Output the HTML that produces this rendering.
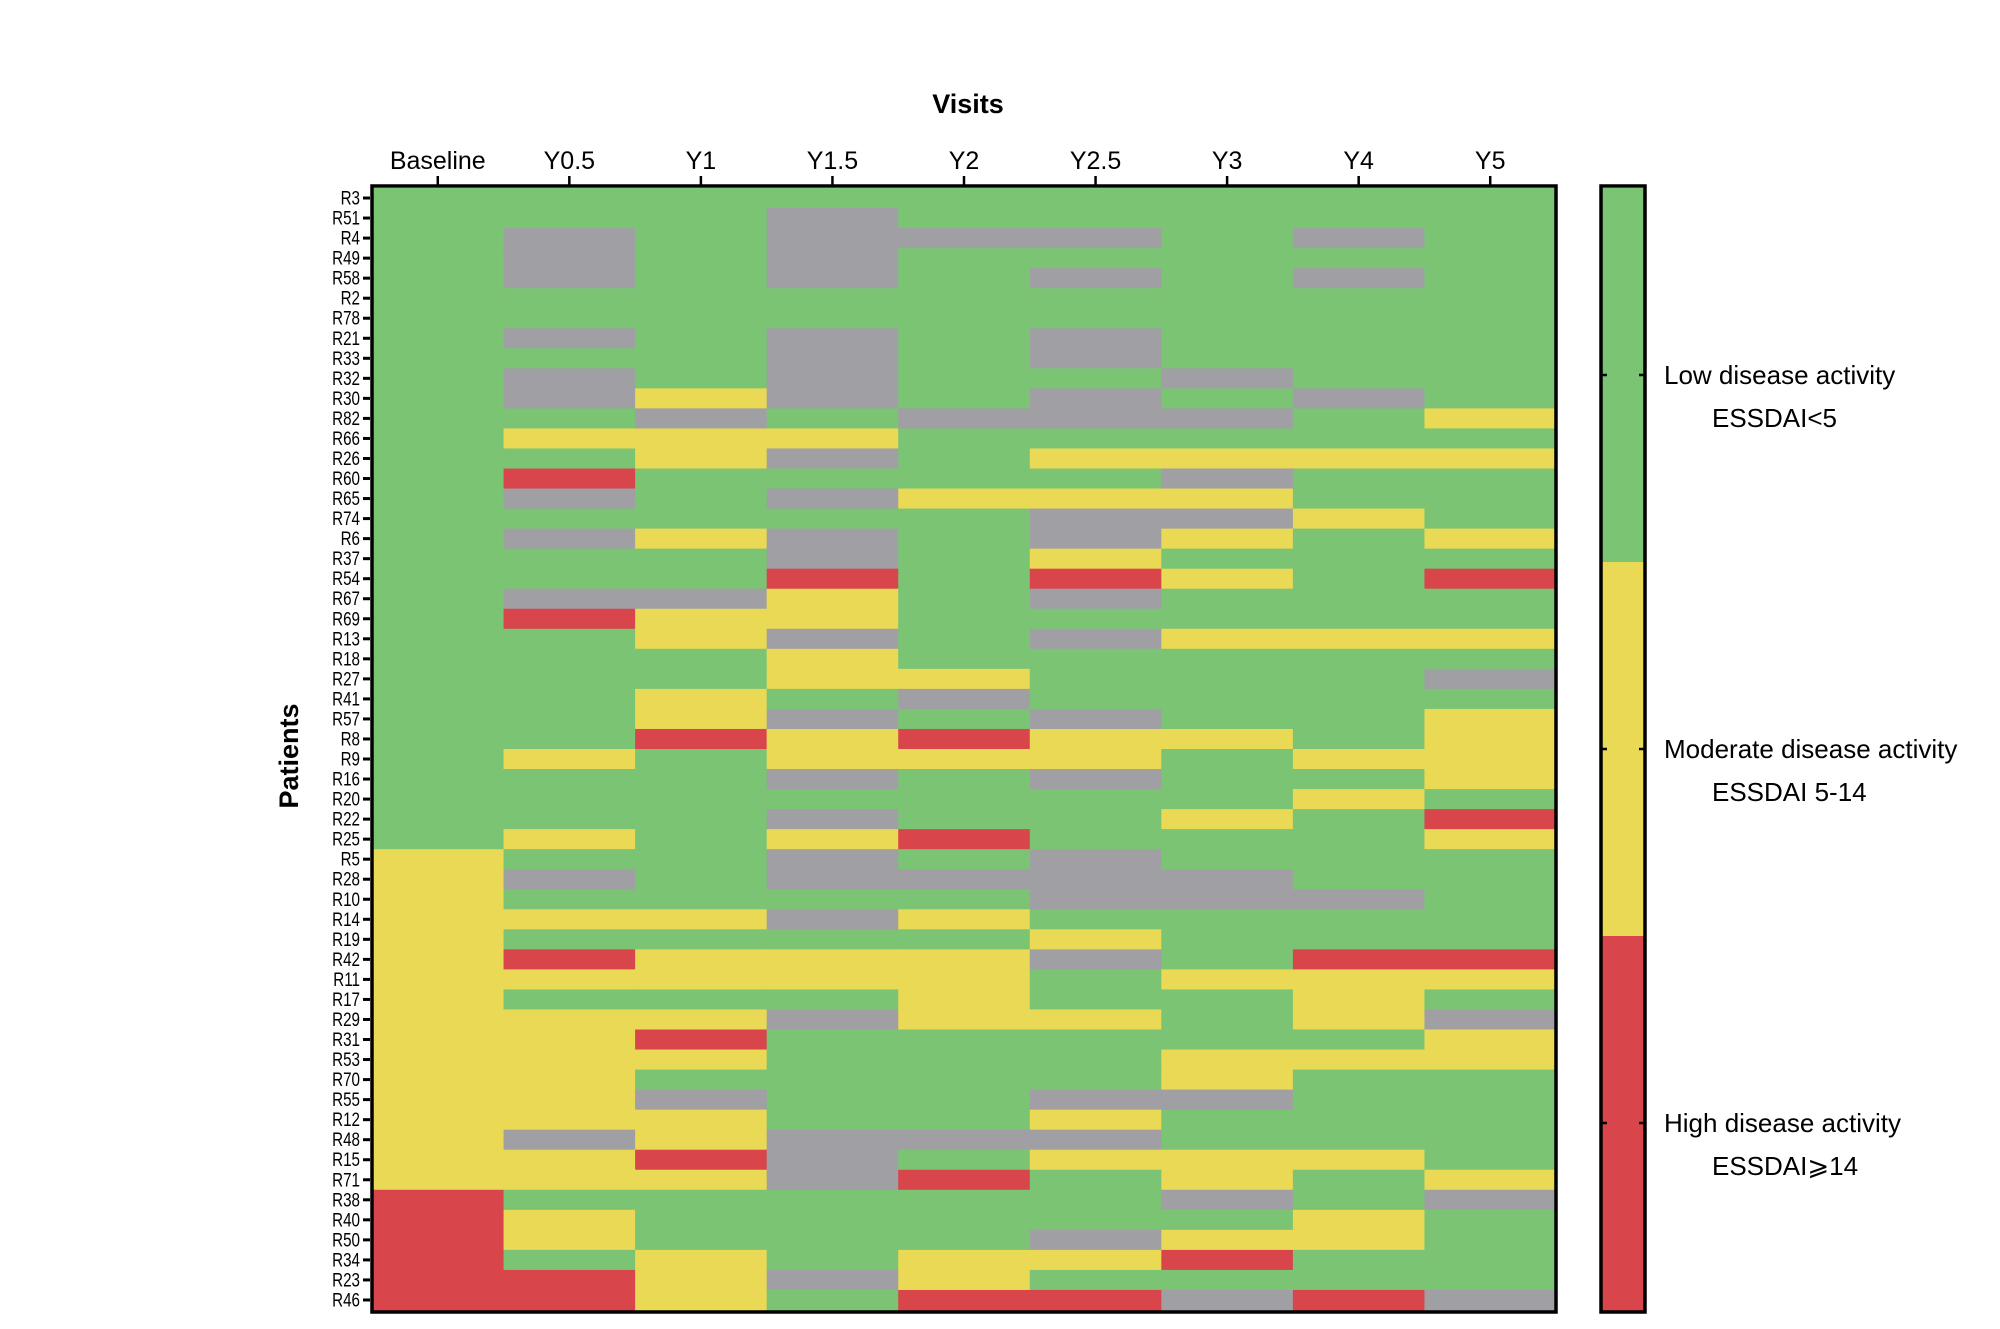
<!DOCTYPE html>
<html><head><meta charset="utf-8"><style>
body{margin:0;background:#fff;}
svg{display:block;font-family:"Liberation Sans",Arial,sans-serif;}
</style></head><body>
<svg id="chart" width="2000" height="1329" viewBox="0 0 2000 1329" xmlns="http://www.w3.org/2000/svg">
<g id="cells"></g>
<g id="axes"></g>
</svg>
<script>
const visits = ["Baseline","Y0.5","Y1","Y1.5","Y2","Y2.5","Y3","Y4","Y5"];
const patients = ["R3","R51","R4","R49","R58","R2","R78","R21","R33","R32","R30","R82","R66","R26","R60","R65","R74","R6","R37","R54","R67","R69","R13","R18","R27","R41","R57","R8","R9","R16","R20","R22","R25","R5","R28","R10","R14","R19","R42","R11","R17","R29","R31","R53","R70","R55","R12","R48","R15","R71","R38","R40","R50","R34","R23","R46"];
// G=low, Y=moderate, R=high, N=missing
const statusRows = [
"GGGGGGGGG","GGGNGGGGG","GNGNNNGNG","GNGNGGGGG","GNGNGNGNG","GGGGGGGGG","GGGGGGGGG",
"GNGNGNGGG","GGGNGNGGG","GNGNGGNGG","GNYNGNGNG","GGNGNNNGY","GYYYGGGGG","GGYNGYYYY",
"GRGGGGNGG","GNGNYYYGG","GGGGGNNYG","GNYNGNYGY","GGGNGYGGG","GGGRGRYGR","GNNYGNGGG",
"GRYYGGGGG","GGYNGNYYY","GGGYGGGGG","GGGYYGGGN","GGYGNGGGG","GGYNGNGGY","GGRYRYYGY",
"GYGYYYGYY","GGGNGNGGY","GGGGGGGYG","GGGNGGYGR","GYGYRGGGY","YGGNGNGGG","YNGNNNNGG",
"YGGGGNNNG","YYYNYGGGG","YGGGGYGGG","YRYYYNGRR","YYYYYGYYY","YGGGYGGYG","YYYNYYGYN",
"YYRGGGGGY","YYYGGGYYY","YYGGGGYGG","YYNGGNNGG","YYYGGYGGG","YNYNNNGGG","YYRNGYYYG",
"YYYNRGYGY","RGGGGGNGN","RYGGGGGYG","RYGGGNYYG","RGYGYYRGG","RRYNYGGGG","RRYGRRNRN"];
const legendLabels = ["Low disease activity","Moderate disease activity","High disease activity"];
const legendSub = ["ESSDAI<5","ESSDAI 5-14","ESSDAI\u2A7E14"];

const colors = {G:"#7AC474",Y:"#E9D955",R:"#D8454A",N:"#A09FA4"};
const names = {G:"low",Y:"moderate",R:"high",N:"missing"};
const X0=372, X1=1556, Y0=188, Y1=1310;
const cw=(X1-X0)/visits.length, rh=(Y1-Y0)/patients.length;
const xScale=i=>X0+i*cw, yScale=j=>Y0+j*rh;
const NS="http://www.w3.org/2000/svg";
function mk(tag,attrs,parent,text){const e=document.createElementNS(NS,tag);for(const k in attrs)e.setAttribute(k,attrs[k]);if(text!==undefined)e.textContent=text;parent.appendChild(e);return e;}
const cells=document.getElementById('cells'), axes=document.getElementById('axes');
statusRows.forEach((row,j)=>{
  for(let i=0;i<visits.length;i++){
    const c=row[i];
    const r=mk('rect',{x:xScale(i),y:yScale(j),width:cw+0.6,height:rh+0.6,fill:colors[c]},cells);
    
    
  }
});
const fr=mk('rect',{x:X0,y:Y0-2,width:X1-X0,height:Y1-Y0+4,fill:"none",stroke:"#000","stroke-width":3.5},axes);


visits.forEach((v,i)=>{
  const cx=xScale(i)+cw/2;
  const t=mk('line',{x1:cx,x2:cx,y1:Y0-12,y2:Y0-2,stroke:"#000","stroke-width":2.5},axes);
  
  
  const l=mk('text',{x:cx,y:169,"text-anchor":"middle","font-size":25},axes,v);
  
  
});
patients.forEach((p,j)=>{
  const cy=yScale(j)+rh/2;
  const t=mk('line',{x1:X0-9,x2:X0-2,y1:cy,y2:cy,stroke:"#000","stroke-width":3},axes);
  
  
  const l=mk('text',{x:X0-12,y:cy+6.5,"text-anchor":"end","font-size":19,transform:"translate("+(X0-12)+",0) scale(0.8,1) translate("+(-(X0-12))+",0)"},axes,p);
  
  
});
const xt=mk('text',{x:968,y:113,"text-anchor":"middle","font-size":27,"font-weight":"bold"},axes,"Visits");


const yt=mk('text',{x:0,y:0,"text-anchor":"middle","font-size":27,"font-weight":"bold",transform:"translate(298,756) rotate(-90)"},axes,"Patients");


const CB0=1601, CB1=1645, cbh=(Y1-Y0)/3;
const cbColors=["G","Y","R"];
const cb=document.createElementNS(NS,'g');axes.appendChild(cb);


cbColors.forEach((c,k)=>{
  const r=mk('rect',{x:CB0,y:Y0+k*cbh,width:CB1-CB0,height:cbh+0.5,fill:colors[c]},cb);
  
  
  const my=Y0+k*cbh+cbh/2;
  mk('line',{x1:CB0,x2:CB0+6,y1:my,y2:my,stroke:"#000","stroke-width":2.5},cb);
  mk('line',{x1:CB1-6,x2:CB1,y1:my,y2:my,stroke:"#000","stroke-width":2.5},cb);
  const a=mk('text',{x:1664,y:my+9,"font-size":26},cb,legendLabels[k]);
  
  
  const b=mk('text',{x:1712,y:my+52,"font-size":26},cb,legendSub[k]);
  
  
});
const cbf=mk('rect',{x:CB0,y:Y0-2,width:CB1-CB0,height:Y1-Y0+4,fill:"none",stroke:"#000","stroke-width":3.5},cb);


</script>
</body></html>
